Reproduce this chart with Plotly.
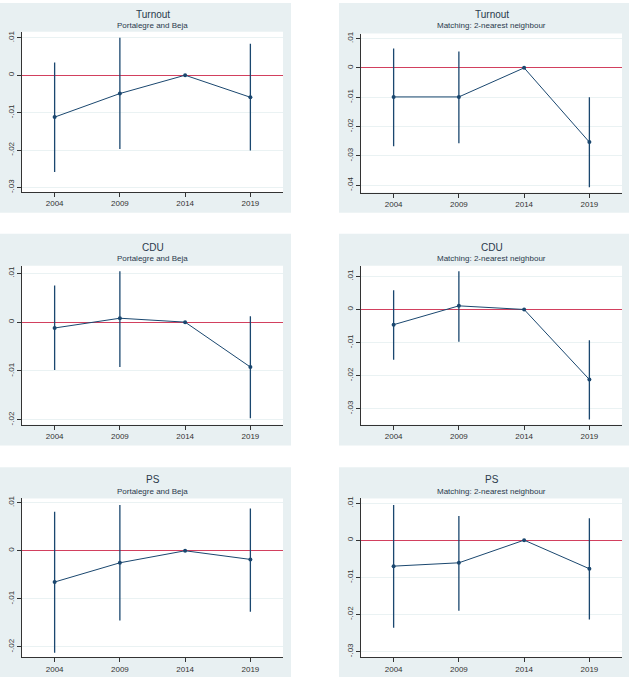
import plotly.graph_objects as go

W, H = 629, 685

years = [2004, 2009, 2014, 2019]

titles = ["Turnout", "Turnout", "CDU", "CDU", "PS", "PS"]
subtitles = ["Portalegre and Beja", "Matching: 2-nearest neighbour"] * 3

turnout_pb = [-0.0112, -0.0049, 0.0, -0.0059]
turnout_pb_hi = [0.0034, 0.0100, 0.0, 0.0084]
turnout_pb_lo = [-0.0259, -0.0197, 0.0, -0.0201]

turnout_nn = [-0.0099, -0.0099, 0.0, -0.0253]
turnout_nn_hi = [0.0066, 0.0056, 0.0, -0.0100]
turnout_nn_lo = [-0.0267, -0.0257, 0.0, -0.0407]

cdu_pb = [-0.0012, 0.0008, 0.0, -0.0092]
cdu_pb_hi = [0.0075, 0.0104, 0.0, 0.0012]
cdu_pb_lo = [-0.0098, -0.0092, 0.0, -0.0197]

cdu_nn = [-0.0046, 0.0011, 0.0, -0.0212]
cdu_nn_hi = [0.0058, 0.0116, 0.0, -0.0093]
cdu_nn_lo = [-0.0152, -0.0098, 0.0, -0.0333]

ps_pb = [-0.0065, -0.0025, 0.0, -0.0018]
ps_pb_hi = [0.0081, 0.0095, 0.0, 0.0088]
ps_pb_lo = [-0.0212, -0.0145, 0.0, -0.0127]

ps_nn = [-0.0070, -0.0061, 0.0, -0.0077]
ps_nn_hi = [0.0095, 0.0065, 0.0, 0.0059]
ps_nn_lo = [-0.0236, -0.0190, 0.0, -0.0214]

yticks_list = [
    [0.01, 0.0, -0.01, -0.02, -0.03],
    [0.01, 0.0, -0.01, -0.02, -0.03, -0.04],
    [0.01, 0.0, -0.01, -0.02],
    [0.01, 0.0, -0.01, -0.02, -0.03],
    [0.01, 0.0, -0.01, -0.02],
    [0.01, 0.0, -0.01, -0.02, -0.03],
]
yranges = [
    [-0.0312, 0.0116],
    [-0.0425, 0.0117],
    [-0.02104, 0.01155],
    [-0.0349, 0.01323],
    [-0.0222, 0.0109],
    [-0.0316, 0.01125],
]

series = [
    (turnout_pb, turnout_pb_hi, turnout_pb_lo),
    (turnout_nn, turnout_nn_hi, turnout_nn_lo),
    (cdu_pb, cdu_pb_hi, cdu_pb_lo),
    (cdu_nn, cdu_nn_hi, cdu_nn_lo),
    (ps_pb, ps_pb_hi, ps_pb_lo),
    (ps_nn, ps_nn_hi, ps_nn_lo),
]

# pixel layout (left, right, top, bottom) of plot areas
plot_px = [
    (22, 283, 29, 190),
    (361, 622, 30.7, 190.7),
    (22, 283, 264.3, 424.3),
    (361, 622, 264.3, 424.3),
    (22, 283, 498.3, 658.3),
    (361, 622, 498.3, 658.3),
]
bg_px = [
    (0, 291, 0, 211),
    (339, 629, 0, 211),
    (0, 291, 232, 445),
    (339, 629, 232, 445),
    (0, 291, 467, 678),
    (339, 629, 467, 678),
]
title_y = [11.5, 11.5, 246, 246, 479.5, 479.5]

NAVY = "#1A476F"
BG = "#E8F0F2"
RED = "#D2405E"
FONT = "Liberation Sans, Arial, sans-serif"


def fmt(v):
    if abs(v) < 1e-12:
        return "0"
    s = f"{v:.2f}"
    return s.replace("0.", ".")


fig = go.Figure()
shapes = []
annotations = []

for i in range(6):
    n = i + 1
    xa = "x" if n == 1 else f"x{n}"
    ya = "y" if n == 1 else f"y{n}"
    est, hi, lo = series[i]
    err_plus = [h - e for h, e in zip(hi, est)]
    err_minus = [e - l for e, l in zip(est, lo)]
    fig.add_trace(go.Scatter(
        x=years, y=est, mode="lines+markers",
        line=dict(color=NAVY, width=1),
        marker=dict(color=NAVY, size=4),
        error_y=dict(type="data", symmetric=False, array=err_plus,
                     arrayminus=err_minus, width=0, thickness=1.3, color=NAVY),
        xaxis=xa, yaxis=ya, showlegend=False, hoverinfo="skip",
    ))
    l, r, t, b = plot_px[i]
    xdom = [l / W, r / W]
    ydom = [1 - b / H, 1 - t / H]
    fig.layout[f"xaxis{'' if n == 1 else n}"] = dict(
        domain=xdom, anchor=ya, range=[2001.5, 2021.5],
        tickvals=years, ticktext=[str(y) for y in years],
        showgrid=False, zeroline=False, showline=True, linecolor="#333",
        linewidth=1, ticks="outside", ticklen=4, tickcolor="#333",
        tickfont=dict(family=FONT, size=8, color="#333"), fixedrange=True,
    )
    yt = yticks_list[i]
    fig.layout[f"yaxis{'' if n == 1 else n}"] = dict(
        domain=ydom, anchor=xa, range=yranges[i],
        tickvals=yt, ticktext=[fmt(v) for v in yt], tickangle=-90,
        showgrid=True, gridcolor="#EAF2F3", gridwidth=1,
        zeroline=True, zerolinecolor=RED, zerolinewidth=1.2,
        showline=True, linecolor="#333", linewidth=1,
        ticks="outside", ticklen=4, tickcolor="#333",
        tickfont=dict(family=FONT, size=8, color="#333"), fixedrange=True,
    )
    bl, br, bt, bb = bg_px[i]
    shapes.append(dict(type="rect", xref="paper", yref="paper",
                       x0=bl / W, x1=br / W, y0=1 - bb / H, y1=1 - bt / H,
                       fillcolor=BG, line=dict(width=0), layer="below"))
    shapes.append(dict(type="rect", xref="paper", yref="paper",
                       x0=l / W, x1=r / W, y0=1 - b / H, y1=1 - t / H,
                       fillcolor="white", line=dict(width=0), layer="below"))
    cx = (l + r) / 2 / W
    annotations.append(dict(text=titles[i], x=cx, y=1 - title_y[i] / H,
                            xref="paper", yref="paper", showarrow=False,
                            xanchor="center", yanchor="middle",
                            font=dict(family=FONT, size=10, color="#2A3A4C")))
    annotations.append(dict(text=subtitles[i], x=cx, y=1 - (title_y[i] + 11.5) / H,
                            xref="paper", yref="paper", showarrow=False,
                            xanchor="center", yanchor="middle",
                            font=dict(family=FONT, size=8, color="#2A3A4C")))

fig.update_layout(
    width=W, height=H, margin=dict(l=0, r=0, t=0, b=0),
    paper_bgcolor="white", plot_bgcolor="rgba(0,0,0,0)",
    shapes=shapes, annotations=annotations, showlegend=False,
)

fig.write_html("out.html", config={"displayModeBar": False})
